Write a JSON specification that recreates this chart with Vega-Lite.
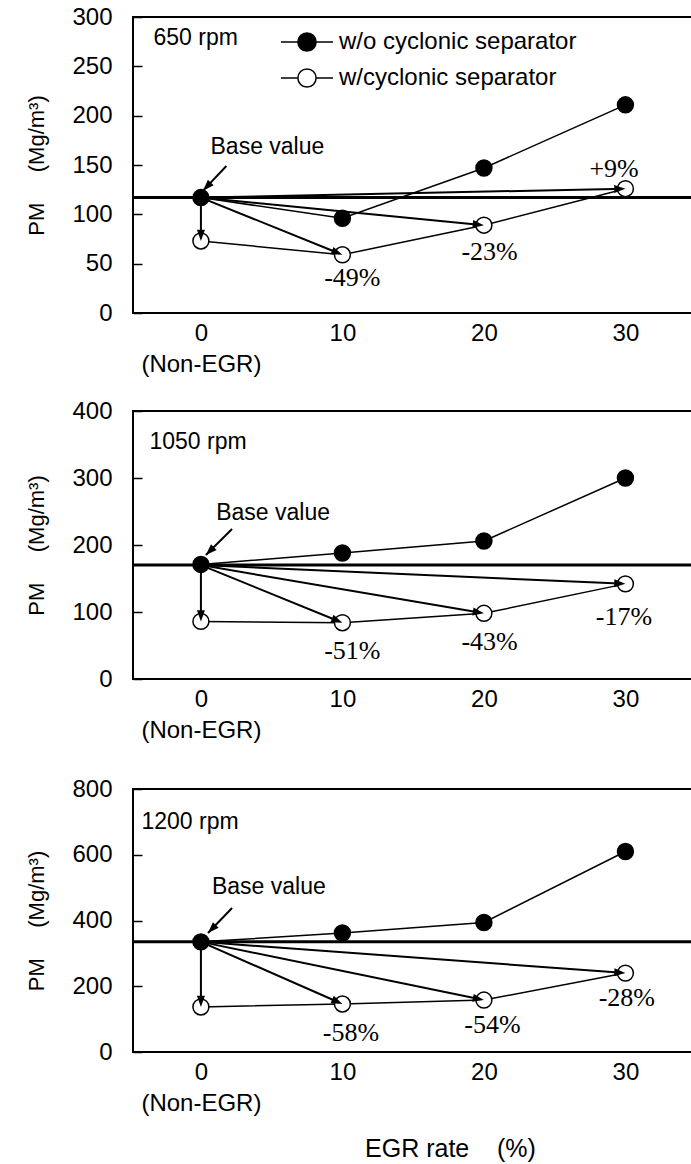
{
  "$schema": "https://vega.github.io/schema/vega-lite/v6.json",
  "padding": {"left": 24, "top": 4, "right": 0, "bottom": 0},
  "background": "white",
  "datasets": {
    "points": [
      {"panel": "650 rpm", "series": "w/o cyclonic separator", "egr": 0, "pm": 117},
      {"panel": "650 rpm", "series": "w/o cyclonic separator", "egr": 10, "pm": 96},
      {"panel": "650 rpm", "series": "w/o cyclonic separator", "egr": 20, "pm": 147},
      {"panel": "650 rpm", "series": "w/o cyclonic separator", "egr": 30, "pm": 211},
      {"panel": "650 rpm", "series": "w/cyclonic separator", "egr": 0, "pm": 73},
      {"panel": "650 rpm", "series": "w/cyclonic separator", "egr": 10, "pm": 59},
      {"panel": "650 rpm", "series": "w/cyclonic separator", "egr": 20, "pm": 89},
      {"panel": "650 rpm", "series": "w/cyclonic separator", "egr": 30, "pm": 126},
      {"panel": "1050 rpm", "series": "w/o cyclonic separator", "egr": 0, "pm": 171},
      {"panel": "1050 rpm", "series": "w/o cyclonic separator", "egr": 10, "pm": 188},
      {"panel": "1050 rpm", "series": "w/o cyclonic separator", "egr": 20, "pm": 206},
      {"panel": "1050 rpm", "series": "w/o cyclonic separator", "egr": 30, "pm": 300},
      {"panel": "1050 rpm", "series": "w/cyclonic separator", "egr": 0, "pm": 86},
      {"panel": "1050 rpm", "series": "w/cyclonic separator", "egr": 10, "pm": 84},
      {"panel": "1050 rpm", "series": "w/cyclonic separator", "egr": 20, "pm": 98},
      {"panel": "1050 rpm", "series": "w/cyclonic separator", "egr": 30, "pm": 142},
      {"panel": "1200 rpm", "series": "w/o cyclonic separator", "egr": 0, "pm": 335},
      {"panel": "1200 rpm", "series": "w/o cyclonic separator", "egr": 10, "pm": 362},
      {"panel": "1200 rpm", "series": "w/o cyclonic separator", "egr": 20, "pm": 394},
      {"panel": "1200 rpm", "series": "w/o cyclonic separator", "egr": 30, "pm": 610},
      {"panel": "1200 rpm", "series": "w/cyclonic separator", "egr": 0, "pm": 137},
      {"panel": "1200 rpm", "series": "w/cyclonic separator", "egr": 10, "pm": 146},
      {"panel": "1200 rpm", "series": "w/cyclonic separator", "egr": 20, "pm": 158},
      {"panel": "1200 rpm", "series": "w/cyclonic separator", "egr": 30, "pm": 240}
    ],
    "base": [
      {"panel": "650 rpm", "pm": 117},
      {"panel": "1050 rpm", "pm": 170},
      {"panel": "1200 rpm", "pm": 335}
    ],
    "arrows": [
      {"panel": "650 rpm", "egr0": 0, "pm0": 117, "egr": 0, "pm": 73},
      {"panel": "650 rpm", "egr0": 0, "pm0": 117, "egr": 10, "pm": 59},
      {"panel": "650 rpm", "egr0": 0, "pm0": 117, "egr": 20, "pm": 89},
      {"panel": "650 rpm", "egr0": 0, "pm0": 117, "egr": 30, "pm": 126},
      {"panel": "650 rpm", "egr0": 1.8, "pm0": 149, "egr": 0.15, "pm": 124},
      {"panel": "1050 rpm", "egr0": 0, "pm0": 170, "egr": 0, "pm": 86},
      {"panel": "1050 rpm", "egr0": 0, "pm0": 170, "egr": 10, "pm": 84},
      {"panel": "1050 rpm", "egr0": 0, "pm0": 170, "egr": 20, "pm": 98},
      {"panel": "1050 rpm", "egr0": 0, "pm0": 170, "egr": 30, "pm": 142},
      {"panel": "1050 rpm", "egr0": 2.2, "pm0": 224, "egr": 0.35, "pm": 185},
      {"panel": "1200 rpm", "egr0": 0, "pm0": 335, "egr": 0, "pm": 137},
      {"panel": "1200 rpm", "egr0": 0, "pm0": 335, "egr": 10, "pm": 146},
      {"panel": "1200 rpm", "egr0": 0, "pm0": 335, "egr": 20, "pm": 158},
      {"panel": "1200 rpm", "egr0": 0, "pm0": 335, "egr": 30, "pm": 240},
      {"panel": "1200 rpm", "egr0": 2.2, "pm0": 438, "egr": 0.5, "pm": 362}
    ],
    "labels": [
      {"panel": "650 rpm", "kind": "pct", "egr": 10.7, "pm": 35, "text": "-49%"},
      {"panel": "650 rpm", "kind": "pct", "egr": 20.4, "pm": 62, "text": "-23%"},
      {"panel": "650 rpm", "kind": "pct", "egr": 29.2, "pm": 146, "text": "+9%"},
      {"panel": "650 rpm", "kind": "base", "egr": 4.7, "pm": 168.5, "text": "Base value"},
      {"panel": "650 rpm", "kind": "rpm", "egr": -3.35, "pm": 279, "text": "650 rpm"},
      {"panel": "1050 rpm", "kind": "pct", "egr": 10.7, "pm": 42.5, "text": "-51%"},
      {"panel": "1050 rpm", "kind": "pct", "egr": 20.4, "pm": 55, "text": "-43%"},
      {"panel": "1050 rpm", "kind": "pct", "egr": 29.9, "pm": 92.5, "text": "-17%"},
      {"panel": "1050 rpm", "kind": "base", "egr": 5.1, "pm": 247.5, "text": "Base value"},
      {"panel": "1050 rpm", "kind": "rpm", "egr": -3.64, "pm": 353, "text": "1050 rpm"},
      {"panel": "1200 rpm", "kind": "pct", "egr": 10.6, "pm": 59, "text": "-58%"},
      {"panel": "1200 rpm", "kind": "pct", "egr": 20.6, "pm": 82, "text": "-54%"},
      {"panel": "1200 rpm", "kind": "pct", "egr": 30.1, "pm": 163, "text": "-28%"},
      {"panel": "1200 rpm", "kind": "base", "egr": 4.8, "pm": 503, "text": "Base value"},
      {"panel": "1200 rpm", "kind": "rpm", "egr": -4.2, "pm": 700, "text": "1200 rpm"}
    ]
  },
  "vconcat": [
    {
      "name": "p1",
      "width": 566,
      "height": 296,
      "layer": [
        {
          "data": {"name": "points"},
          "transform": [{"filter": "datum.panel == '650 rpm'"}],
          "mark": {"type": "line", "color": "black", "strokeWidth": 1.5},
          "encoding": {
            "x": {"field": "egr", "type": "quantitative", "scale": {"domain": [-4.8, 35.2], "nice": false, "zero": false},
              "axis": {"values": [0, 10, 20, 30], "title": null, "labelExpr": "datum.value == 0 ? ['0', '(Non-EGR)'] : datum.label"}},
            "y": {"field": "pm", "type": "quantitative", "scale": {"domain": [0, 300], "nice": false},
              "axis": {"values": [0, 50, 100, 150, 200, 250, 300], "title": "PM\u00a0\u00a0\u00a0\u00a0\u00a0(Mg/m³)",
                "titleFontSize": 22, "titleFont": "Liberation Sans", "titleFontWeight": "normal", "titlePadding": 23,
                "labelPadding": 30, "tickSize": -9, "tickWidth": 1.5, "labelFontSize": 24}},
            "detail": {"field": "series"}
          }
        },
        {
          "data": {"name": "base"},
          "transform": [{"filter": "datum.panel == '650 rpm'"}],
          "mark": {"type": "rule", "color": "black", "strokeWidth": 3},
          "encoding": {
            "y": {"field": "pm", "type": "quantitative", "scale": {"domain": [0, 300], "nice": false}}
          }
        },
        {
          "data": {"name": "arrows"},
          "transform": [{"filter": "datum.panel == '650 rpm'"}],
          "mark": {"type": "rule", "color": "black", "strokeWidth": 2},
          "encoding": {
            "x": {"field": "egr", "type": "quantitative", "scale": {"domain": [-4.8, 35.2], "nice": false, "zero": false}},
            "y": {"field": "pm", "type": "quantitative", "scale": {"domain": [0, 300], "nice": false}},
            "x2": {"field": "egr0"},
            "y2": {"field": "pm0"}
          }
        },
        {
          "data": {"name": "points"},
          "transform": [{"filter": "datum.panel == '650 rpm'"}],
          "mark": {"type": "circle", "size": 254, "stroke": "black", "strokeWidth": 1.5, "opacity": 1},
          "encoding": {
            "x": {"field": "egr", "type": "quantitative", "scale": {"domain": [-4.8, 35.2], "nice": false, "zero": false}},
            "y": {"field": "pm", "type": "quantitative", "scale": {"domain": [0, 300], "nice": false}},
            "fill": {"field": "series", "type": "nominal",
              "scale": {"domain": ["w/o cyclonic separator", "w/cyclonic separator"], "range": ["black", "white"]},
              "legend": {"orient": "none", "legendX": 160, "legendY": 11, "title": null, "padding": 0,
                "symbolType": "M-2,0H-0.7M0.7,0H2M-0.7,0A0.7,0.7,0,1,1,0.7,0A0.7,0.7,0,1,1,-0.7,0Z",
                "symbolSize": 676, "symbolStrokeColor": "black", "symbolStrokeWidth": 1.5, "symbolOpacity": 1,
                "labelFont": "Liberation Sans", "labelFontSize": 24, "labelColor": "black", "labelOffset": 18, "rowPadding": 9, "labelLimit": 0}}
          }
        },
        {
          "data": {"name": "arrows"},
          "transform": [{"filter": "datum.panel == '650 rpm'"}],
          "mark": {"type": "point", "shape": "M0,0L-0.5,1.4L0.5,1.4Z", "size": 256, "filled": true, "color": "black", "opacity": 1,
            "angle": {"expr": "atan2(scale('p1_x', datum.egr) - scale('p1_x', datum.egr0), scale('p1_y', datum.pm0) - scale('p1_y', datum.pm)) * 180 / PI"}},
          "encoding": {
            "x": {"field": "egr", "type": "quantitative", "scale": {"domain": [-4.8, 35.2], "nice": false, "zero": false}},
            "y": {"field": "pm", "type": "quantitative", "scale": {"domain": [0, 300], "nice": false}}
          }
        },
        {
          "data": {"name": "labels"},
          "transform": [{"filter": "datum.panel == '650 rpm' && datum.kind == 'pct'"}],
          "mark": {"type": "text", "font": "Liberation Serif", "fontSize": 26, "color": "black", "align": "center", "baseline": "middle"},
          "encoding": {
            "x": {"field": "egr", "type": "quantitative", "scale": {"domain": [-4.8, 35.2], "nice": false, "zero": false}},
            "y": {"field": "pm", "type": "quantitative", "scale": {"domain": [0, 300], "nice": false}},
            "text": {"field": "text"}
          }
        },
        {
          "data": {"name": "labels"},
          "transform": [{"filter": "datum.panel == '650 rpm' && datum.kind == 'base'"}],
          "mark": {"type": "text", "font": "Liberation Sans", "fontSize": 23, "color": "black", "align": "center", "baseline": "middle"},
          "encoding": {
            "x": {"field": "egr", "type": "quantitative", "scale": {"domain": [-4.8, 35.2], "nice": false, "zero": false}},
            "y": {"field": "pm", "type": "quantitative", "scale": {"domain": [0, 300], "nice": false}},
            "text": {"field": "text"}
          }
        },
        {
          "data": {"name": "labels"},
          "transform": [{"filter": "datum.panel == '650 rpm' && datum.kind == 'rpm'"}],
          "mark": {"type": "text", "font": "Liberation Sans", "fontSize": 23, "color": "black", "align": "left", "baseline": "middle"},
          "encoding": {
            "x": {"field": "egr", "type": "quantitative", "scale": {"domain": [-4.8, 35.2], "nice": false, "zero": false}},
            "y": {"field": "pm", "type": "quantitative", "scale": {"domain": [0, 300], "nice": false}},
            "text": {"field": "text"}
          }
        }
      ]
    },
    {
      "spacing": 110,
      "bounds": "flush",
      "vconcat": [
        {
          "name": "p2",
          "width": 566,
          "height": 268,
          "layer": [
            {
              "data": {"name": "points"},
              "transform": [{"filter": "datum.panel == '1050 rpm'"}],
              "mark": {"type": "line", "color": "black", "strokeWidth": 1.5},
              "encoding": {
                "x": {"field": "egr", "type": "quantitative", "scale": {"domain": [-4.8, 35.2], "nice": false, "zero": false},
                  "axis": {"values": [0, 10, 20, 30], "title": null, "labelExpr": "datum.value == 0 ? ['0', '(Non-EGR)'] : datum.label"}},
                "y": {"field": "pm", "type": "quantitative", "scale": {"domain": [0, 400], "nice": false},
                  "axis": {"values": [0, 100, 200, 300, 400], "title": "PM\u00a0\u00a0\u00a0\u00a0\u00a0(Mg/m³)",
                    "titleFontSize": 22, "titleFont": "Liberation Sans", "titleFontWeight": "normal", "titlePadding": 23,
                    "labelPadding": 30, "tickSize": -9, "tickWidth": 1.5, "labelFontSize": 24}},
                "detail": {"field": "series"}
              }
            },
            {
              "data": {"name": "base"},
              "transform": [{"filter": "datum.panel == '1050 rpm'"}],
              "mark": {"type": "rule", "color": "black", "strokeWidth": 3},
              "encoding": {
                "y": {"field": "pm", "type": "quantitative", "scale": {"domain": [0, 400], "nice": false}}
              }
            },
            {
              "data": {"name": "arrows"},
              "transform": [{"filter": "datum.panel == '1050 rpm'"}],
              "mark": {"type": "rule", "color": "black", "strokeWidth": 2},
              "encoding": {
                "x": {"field": "egr", "type": "quantitative", "scale": {"domain": [-4.8, 35.2], "nice": false, "zero": false}},
                "y": {"field": "pm", "type": "quantitative", "scale": {"domain": [0, 400], "nice": false}},
                "x2": {"field": "egr0"},
                "y2": {"field": "pm0"}
              }
            },
            {
              "data": {"name": "points"},
              "transform": [{"filter": "datum.panel == '1050 rpm'"}],
              "mark": {"type": "circle", "size": 254, "stroke": "black", "strokeWidth": 1.5, "opacity": 1},
              "encoding": {
                "x": {"field": "egr", "type": "quantitative", "scale": {"domain": [-4.8, 35.2], "nice": false, "zero": false}},
                "y": {"field": "pm", "type": "quantitative", "scale": {"domain": [0, 400], "nice": false}},
                "fill": {"field": "series", "type": "nominal",
                  "scale": {"domain": ["w/o cyclonic separator", "w/cyclonic separator"], "range": ["black", "white"]},
                  "legend": null}
              }
            },
            {
              "data": {"name": "arrows"},
              "transform": [{"filter": "datum.panel == '1050 rpm'"}],
              "mark": {"type": "point", "shape": "M0,0L-0.5,1.4L0.5,1.4Z", "size": 256, "filled": true, "color": "black", "opacity": 1,
                "angle": {"expr": "atan2(scale('p2_x', datum.egr) - scale('p2_x', datum.egr0), scale('p2_y', datum.pm0) - scale('p2_y', datum.pm)) * 180 / PI"}},
              "encoding": {
                "x": {"field": "egr", "type": "quantitative", "scale": {"domain": [-4.8, 35.2], "nice": false, "zero": false}},
                "y": {"field": "pm", "type": "quantitative", "scale": {"domain": [0, 400], "nice": false}}
              }
            },
            {
              "data": {"name": "labels"},
              "transform": [{"filter": "datum.panel == '1050 rpm' && datum.kind == 'pct'"}],
              "mark": {"type": "text", "font": "Liberation Serif", "fontSize": 26, "color": "black", "align": "center", "baseline": "middle"},
              "encoding": {
                "x": {"field": "egr", "type": "quantitative", "scale": {"domain": [-4.8, 35.2], "nice": false, "zero": false}},
                "y": {"field": "pm", "type": "quantitative", "scale": {"domain": [0, 400], "nice": false}},
                "text": {"field": "text"}
              }
            },
            {
              "data": {"name": "labels"},
              "transform": [{"filter": "datum.panel == '1050 rpm' && datum.kind == 'base'"}],
              "mark": {"type": "text", "font": "Liberation Sans", "fontSize": 23, "color": "black", "align": "center", "baseline": "middle"},
              "encoding": {
                "x": {"field": "egr", "type": "quantitative", "scale": {"domain": [-4.8, 35.2], "nice": false, "zero": false}},
                "y": {"field": "pm", "type": "quantitative", "scale": {"domain": [0, 400], "nice": false}},
                "text": {"field": "text"}
              }
            },
            {
              "data": {"name": "labels"},
              "transform": [{"filter": "datum.panel == '1050 rpm' && datum.kind == 'rpm'"}],
              "mark": {"type": "text", "font": "Liberation Sans", "fontSize": 23, "color": "black", "align": "left", "baseline": "middle"},
              "encoding": {
                "x": {"field": "egr", "type": "quantitative", "scale": {"domain": [-4.8, 35.2], "nice": false, "zero": false}},
                "y": {"field": "pm", "type": "quantitative", "scale": {"domain": [0, 400], "nice": false}},
                "text": {"field": "text"}
              }
            }
          ]
        },
        {
          "name": "p3",
          "width": 566,
          "height": 263,
          "layer": [
            {
              "data": {"name": "points"},
              "transform": [{"filter": "datum.panel == '1200 rpm'"}],
              "mark": {"type": "line", "color": "black", "strokeWidth": 1.5},
              "encoding": {
                "x": {"field": "egr", "type": "quantitative", "scale": {"domain": [-4.8, 35.2], "nice": false, "zero": false},
                  "axis": {"values": [0, 10, 20, 30], "title": "EGR rate\u00a0\u00a0\u00a0\u00a0(%)", "titleX": 317, "titleY": 104, "titleBaseline": "alphabetic",
                    "titleFontSize": 25, "titleFont": "Liberation Sans", "titleFontWeight": "normal",
                    "labelExpr": "datum.value == 0 ? ['0', '(Non-EGR)'] : datum.label"}},
                "y": {"field": "pm", "type": "quantitative", "scale": {"domain": [0, 800], "nice": false},
                  "axis": {"values": [0, 200, 400, 600, 800], "title": "PM\u00a0\u00a0\u00a0\u00a0\u00a0(Mg/m³)",
                    "titleFontSize": 22, "titleFont": "Liberation Sans", "titleFontWeight": "normal", "titlePadding": 23,
                    "labelPadding": 30, "tickSize": -9, "tickWidth": 1.5, "labelFontSize": 24}},
                "detail": {"field": "series"}
              }
            },
            {
              "data": {"name": "base"},
              "transform": [{"filter": "datum.panel == '1200 rpm'"}],
              "mark": {"type": "rule", "color": "black", "strokeWidth": 3},
              "encoding": {
                "y": {"field": "pm", "type": "quantitative", "scale": {"domain": [0, 800], "nice": false}}
              }
            },
            {
              "data": {"name": "arrows"},
              "transform": [{"filter": "datum.panel == '1200 rpm'"}],
              "mark": {"type": "rule", "color": "black", "strokeWidth": 2},
              "encoding": {
                "x": {"field": "egr", "type": "quantitative", "scale": {"domain": [-4.8, 35.2], "nice": false, "zero": false}},
                "y": {"field": "pm", "type": "quantitative", "scale": {"domain": [0, 800], "nice": false}},
                "x2": {"field": "egr0"},
                "y2": {"field": "pm0"}
              }
            },
            {
              "data": {"name": "points"},
              "transform": [{"filter": "datum.panel == '1200 rpm'"}],
              "mark": {"type": "circle", "size": 254, "stroke": "black", "strokeWidth": 1.5, "opacity": 1},
              "encoding": {
                "x": {"field": "egr", "type": "quantitative", "scale": {"domain": [-4.8, 35.2], "nice": false, "zero": false}},
                "y": {"field": "pm", "type": "quantitative", "scale": {"domain": [0, 800], "nice": false}},
                "fill": {"field": "series", "type": "nominal",
                  "scale": {"domain": ["w/o cyclonic separator", "w/cyclonic separator"], "range": ["black", "white"]},
                  "legend": null}
              }
            },
            {
              "data": {"name": "arrows"},
              "transform": [{"filter": "datum.panel == '1200 rpm'"}],
              "mark": {"type": "point", "shape": "M0,0L-0.5,1.4L0.5,1.4Z", "size": 256, "filled": true, "color": "black", "opacity": 1,
                "angle": {"expr": "atan2(scale('p3_x', datum.egr) - scale('p3_x', datum.egr0), scale('p3_y', datum.pm0) - scale('p3_y', datum.pm)) * 180 / PI"}},
              "encoding": {
                "x": {"field": "egr", "type": "quantitative", "scale": {"domain": [-4.8, 35.2], "nice": false, "zero": false}},
                "y": {"field": "pm", "type": "quantitative", "scale": {"domain": [0, 800], "nice": false}}
              }
            },
            {
              "data": {"name": "labels"},
              "transform": [{"filter": "datum.panel == '1200 rpm' && datum.kind == 'pct'"}],
              "mark": {"type": "text", "font": "Liberation Serif", "fontSize": 26, "color": "black", "align": "center", "baseline": "middle"},
              "encoding": {
                "x": {"field": "egr", "type": "quantitative", "scale": {"domain": [-4.8, 35.2], "nice": false, "zero": false}},
                "y": {"field": "pm", "type": "quantitative", "scale": {"domain": [0, 800], "nice": false}},
                "text": {"field": "text"}
              }
            },
            {
              "data": {"name": "labels"},
              "transform": [{"filter": "datum.panel == '1200 rpm' && datum.kind == 'base'"}],
              "mark": {"type": "text", "font": "Liberation Sans", "fontSize": 23, "color": "black", "align": "center", "baseline": "middle"},
              "encoding": {
                "x": {"field": "egr", "type": "quantitative", "scale": {"domain": [-4.8, 35.2], "nice": false, "zero": false}},
                "y": {"field": "pm", "type": "quantitative", "scale": {"domain": [0, 800], "nice": false}},
                "text": {"field": "text"}
              }
            },
            {
              "data": {"name": "labels"},
              "transform": [{"filter": "datum.panel == '1200 rpm' && datum.kind == 'rpm'"}],
              "mark": {"type": "text", "font": "Liberation Sans", "fontSize": 23, "color": "black", "align": "left", "baseline": "middle"},
              "encoding": {
                "x": {"field": "egr", "type": "quantitative", "scale": {"domain": [-4.8, 35.2], "nice": false, "zero": false}},
                "y": {"field": "pm", "type": "quantitative", "scale": {"domain": [0, 800], "nice": false}},
                "text": {"field": "text"}
              }
            }
          ]
        }
      ]
    }
  ],
  "spacing": 98,
  "bounds": "flush",
  "resolve": {"scale": {"x": "independent", "y": "independent", "fill": "independent"}, "legend": {"fill": "independent"}},
  "config": {
    "view": {"stroke": "black", "strokeWidth": 2},
    "font": "Liberation Sans",
    "axis": {"grid": false, "domain": false, "labelFont": "Liberation Sans", "labelFontSize": 24, "labelColor": "black",
      "titleFont": "Liberation Sans", "titleFontSize": 22, "titleFontWeight": "normal", "titleColor": "black", "tickColor": "black"},
    "axisX": {"ticks": false, "labelPadding": 8, "labelLineHeight": 31, "labelFlush": false, "labelOverlap": false, "labelFontSize": 24},
    "axisY": {"tickSize": -9, "tickWidth": 1.5, "labelPadding": 30, "titlePadding": 23, "labelFlush": false}
  }
}
